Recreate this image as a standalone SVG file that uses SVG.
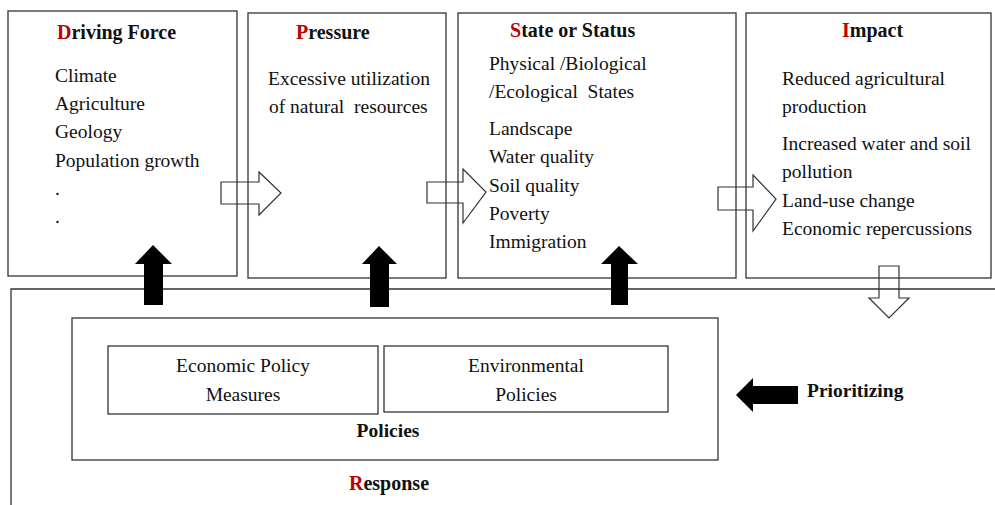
<svg xmlns="http://www.w3.org/2000/svg" width="995" height="505" viewBox="0 0 995 505">
<style>
.box{fill:none;stroke:#333;stroke-width:1.3}
.t{font-family:"Liberation Serif","Times New Roman",serif;font-size:19.5px;fill:#111;white-space:pre}
.h{font-family:"Liberation Serif","Times New Roman",serif;font-size:20px;font-weight:bold;fill:#111}
.b{font-family:"Liberation Serif","Times New Roman",serif;font-size:19.5px;font-weight:bold;fill:#111}
.r{fill:#c00000}
.hollow{fill:none;stroke:#333;stroke-width:1.2;stroke-linejoin:miter}
.solid{fill:#000;stroke:none}
</style>
<rect width="995" height="505" fill="#fff"/>

<g id="driving-force">
<rect class="box" x="8" y="11" width="229" height="265"/>
<text class="h" x="57" y="39"><tspan class="r">D</tspan>riving Force</text>
<text class="t" x="55" y="82">Climate</text>
<text class="t" x="55" y="110">Agriculture</text>
<text class="t" x="55" y="138">Geology</text>
<text class="t" x="55" y="167">Population growth</text>
<text class="t" x="55" y="195">.</text>
<text class="t" x="55" y="223">.</text>
</g>

<g id="pressure">
<rect class="box" x="248" y="13" width="198" height="265"/>
<text class="h" x="296" y="39"><tspan class="r">P</tspan>ressure</text>
<text class="t" x="268" y="85">Excessive utilization</text>
<text class="t" x="269" y="113">of natural  resources</text>
</g>

<g id="state">
<rect class="box" x="458" y="13" width="278" height="265"/>
<text class="h" x="510" y="37"><tspan class="r">S</tspan>tate or Status</text>
<text class="t" x="489" y="70">Physical /Biological</text>
<text class="t" x="489" y="98">/Ecological  States</text>
<text class="t" x="489" y="135">Landscape</text>
<text class="t" x="489" y="163">Water quality</text>
<text class="t" x="489" y="192">Soil quality</text>
<text class="t" x="489" y="220">Poverty</text>
<text class="t" x="489" y="248">Immigration</text>
</g>

<g id="impact">
<rect class="box" x="746" y="13" width="245" height="265"/>
<text class="h" x="842" y="37"><tspan class="r">I</tspan>mpact</text>
<text class="t" x="782" y="85">Reduced agricultural</text>
<text class="t" x="782" y="113">production</text>
<text class="t" x="782" y="150">Increased water and soil</text>
<text class="t" x="782" y="178">pollution</text>
<text class="t" x="782" y="207">Land-use change</text>
<text class="t" x="782" y="235">Economic repercussions</text>
</g>

<g id="response">
<path class="box" d="M11,505 V289 H995"/>
<text class="h" x="349" y="490"><tspan class="r">R</tspan>esponse</text>
</g>

<g id="policies">
<rect class="box" x="72" y="318" width="646" height="142"/>
<text class="b" x="388" y="437" text-anchor="middle">Policies</text>
</g>

<g id="economic-policy">
<rect class="box" x="108" y="346" width="270" height="68"/>
<text class="t" x="243" y="372" text-anchor="middle">Economic Policy</text>
<text class="t" x="243" y="401" text-anchor="middle">Measures</text>
</g>

<g id="environmental-policy">
<rect class="box" x="384" y="346" width="284" height="66"/>
<text class="t" x="526" y="372" text-anchor="middle">Environmental</text>
<text class="t" x="526" y="401" text-anchor="middle">Policies</text>
</g>

<g id="prioritizing">
<text class="b" x="807" y="397">Prioritizing</text>
</g>

<g id="connectors">
<path class="hollow" d="M221,182 H259 V172 L281,193 L259,215 V204 H221 Z"/>
<path class="hollow" d="M427,182 H463 V169 L486,192 L463,223 V203 H427 Z"/>
<path class="hollow" d="M718,187 H753 V175 L776,199 L753,231 V210 H718 Z"/>
<path class="hollow" d="M879,266 H899 V298 H909 L889,318 L869,298 H879 Z"/>
<path class="solid" d="M144,305 V264 H135 L153,245 L172,264 H163 V305 Z"/>
<path class="solid" d="M370,307 V264 H362 L379,246 L397,264 H389 V307 Z"/>
<path class="solid" d="M611,305 V264 H601 L619,246 L638,264 H628 V305 Z"/>
<path class="solid" d="M798,386 H753 V378 L736,395 L753,412 V404 H798 Z"/>
</g>
</svg>
